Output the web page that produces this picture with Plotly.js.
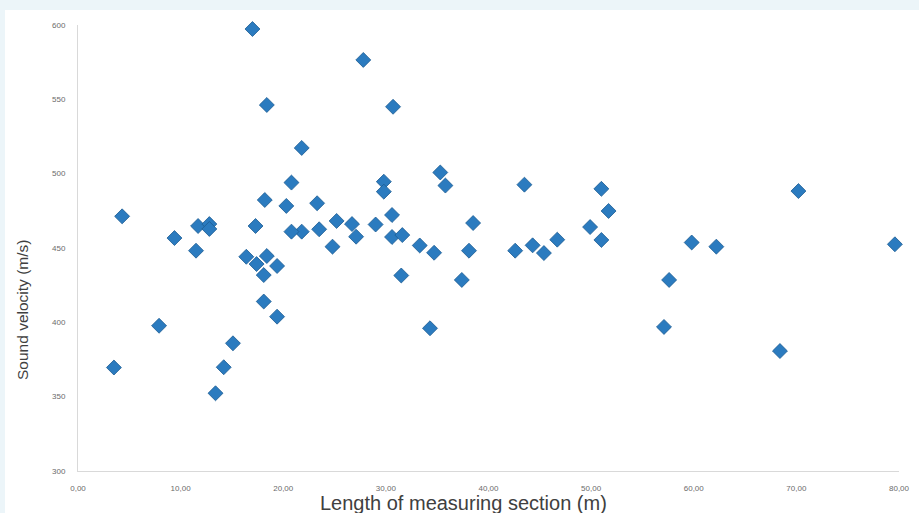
<!DOCTYPE html>
<html>
<head>
<meta charset="utf-8">
<script src="https://cdn.plot.ly/plotly-3.0.1.min.js"></script>
<style>
  html, body { margin: 0; padding: 0; background: #ecf5f9; width: 919px; height: 513px; overflow: hidden; }
  #chart { position: absolute; left: 5px; top: 10px; width: 914px; height: 503px; background: #ffffff; }
</style>
</head>
<body>
<div id="chart"></div>
<script>
// Length of measuring section (m)
const lengthM = [
  17.0, 27.8, 18.4, 30.7, 21.8, 20.8, 35.3, 35.8, 29.8, 29.8,
  43.5, 51.0, 51.7, 49.9, 51.0, 46.7, 44.3, 45.4, 42.6, 70.2,
  79.6, 59.8, 62.2, 57.6, 57.1, 68.4, 38.5, 38.1, 37.4, 31.5,
  34.3, 33.3, 34.7, 30.6, 29.0, 30.6, 31.6, 26.7, 27.1, 25.2,
  24.8, 23.5, 23.3, 20.3, 21.8, 20.8, 18.2, 17.3, 4.3, 11.7,
  12.8, 12.8, 9.4, 11.5, 16.4, 18.4, 17.4, 19.4, 18.1, 18.1,
  19.4, 7.9, 15.1, 3.5, 14.2, 13.4
];
// Sound velocity (m/s)
const velocity = [
  597.3, 576.5, 546.2, 545.0, 517.3, 494.0, 500.8, 492.0, 494.6, 487.9,
  492.6, 489.8, 474.9, 464.1, 455.4, 455.6, 451.8, 446.6, 448.2, 488.3,
  452.5, 453.7, 450.9, 428.5, 396.9, 380.7, 466.8, 448.2, 428.5, 431.5,
  396.0, 451.7, 446.8, 472.2, 465.8, 457.4, 458.7, 466.1, 457.6, 468.2,
  450.9, 462.6, 480.1, 478.3, 461.0, 461.0, 482.3, 464.8, 471.3, 464.8,
  466.1, 462.8, 456.7, 448.2, 444.1, 444.6, 439.2, 437.9, 431.8, 414.0,
  403.8, 397.7, 385.9, 369.6, 369.8, 352.3
];
const xTickVals = [0, 10, 20, 30, 40, 50, 60, 70, 80];
const xTickText = ["0,00", "10,00", "20,00", "30,00", "40,00", "50,00", "60,00", "70,00", "80,00"];
const yTickVals = [300, 350, 400, 450, 500, 550, 600];
const yTickText = ["300", "350", "400", "450", "500", "550", "600"];

const trace = {
  type: 'scatter',
  mode: 'markers',
  x: lengthM,
  y: velocity,
  cliponaxis: false,
  marker: {
    symbol: 'diamond',
    size: 11.5,
    color: '#2b7bbf',
    line: { color: '#1d5c92', width: 0.8 }
  },
  hoverinfo: 'x+y'
};

const tickFont = { family: 'Liberation Sans, Arial, sans-serif', size: 8, color: '#6b6b6b' };

const layout = {
  width: 914,
  height: 503,
  margin: { l: 73, r: 20, t: 15, b: 42, pad: 0 },
  paper_bgcolor: '#ffffff',
  plot_bgcolor: '#ffffff',
  showlegend: false,
  xaxis: {
    range: [0, 80],
    tickvals: xTickVals,
    ticktext: xTickText,
    showgrid: false,
    zeroline: false,
    showline: true,
    linecolor: '#d9d9d9',
    linewidth: 1,
    ticks: '',
    ticklabelstandoff: 9,
    tickfont: tickFont,
    fixedrange: true
  },
  yaxis: {
    range: [300, 600],
    tickvals: yTickVals,
    ticktext: yTickText,
    showgrid: false,
    zeroline: false,
    showline: true,
    linecolor: '#d9d9d9',
    linewidth: 1,
    ticks: '',
    ticklabelstandoff: 10,
    tickfont: tickFont,
    fixedrange: true
  },
  annotations: [
    {
      text: 'Length of measuring section (m)',
      xref: 'paper', yref: 'paper',
      x: 0.470, y: -0.072,
      xanchor: 'center', yanchor: 'middle',
      showarrow: false,
      font: { family: 'Liberation Sans, Arial, sans-serif', size: 20, color: '#404040' }
    },
    {
      text: 'Sound velocity (m/s)',
      xref: 'paper', yref: 'paper',
      x: -0.067, y: 0.361,
      xanchor: 'center', yanchor: 'middle',
      textangle: -90,
      showarrow: false,
      font: { family: 'Liberation Sans, Arial, sans-serif', size: 15.5, color: '#404040' }
    }
  ]
};

Plotly.newPlot('chart', [trace], layout, { displayModeBar: false, staticPlot: true });
</script>
</body>
</html>
